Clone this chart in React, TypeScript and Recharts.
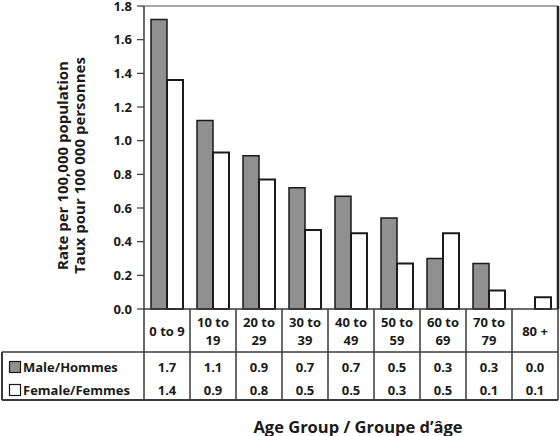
import React from 'react';
import { BarChart, Bar, XAxis, YAxis, ReferenceLine, Label } from 'recharts';

// Age groups, the two-line labels shown in the table header, and rates per 100,000
const ageGroups = ['0 to 9', '10 to 19', '20 to 29', '30 to 39', '40 to 49', '50 to 59', '60 to 69', '70 to 79', '80 +'];
const ageGroupLines = [['0 to 9'], ['10 to', '19'], ['20 to', '29'], ['30 to', '39'], ['40 to', '49'], ['50 to', '59'], ['60 to', '69'], ['70 to', '79'], ['80 +']];
const maleRates = [1.72, 1.12, 0.91, 0.72, 0.67, 0.54, 0.3, 0.27, 0];
const femaleRates = [1.36, 0.93, 0.77, 0.47, 0.45, 0.27, 0.45, 0.11, 0.07];
const yTicks = [0, 0.2, 0.4, 0.6, 0.8, 1.0, 1.2, 1.4, 1.6, 1.8];

const seriesNames = { male: 'Male/Hommes', female: 'Female/Femmes' };

const data = ageGroups.map((group, i) => ({ group, male: maleRates[i], female: femaleRates[i] }));

const FONT = "'Open Sans', 'DejaVu Sans', sans-serif";
const INK = '#1a1a1a';
const LINE = '#3a3a3a';
const MALE_FILL = '#909090';

// Table geometry below the axis (offsets from the axis line)
const HEADER_H = 43;
const MALE_ROW = 58;
const FEMALE_ROW = 81;
const TABLE_H = 91;
const LEGEND_LEFT = 2;

const txt = {
  fontFamily: FONT,
  fontWeight: 700,
  fontSize: 13,
  fill: INK,
};

const TableTick = (props: any) => {
  const { x, y, payload, index, width, visibleTicksCount } = props;
  const half = payload && payload.offset ? payload.offset : width / visibleTicksCount / 2;
  const lines = ageGroupLines[index];
  const left = x - half;
  const right = x + half;
  return (
    <g>
      {lines.length === 1 ? (
        <text x={x} y={y + 22} textAnchor="middle" dominantBaseline="central" style={txt}>{lines[0]}</text>
      ) : (
        <>
          <text x={x} y={y + 13} textAnchor="middle" dominantBaseline="central" style={txt}>{lines[0]}</text>
          <text x={x} y={y + 31} textAnchor="middle" dominantBaseline="central" style={txt}>{lines[1]}</text>
        </>
      )}
      <text x={x} y={y + MALE_ROW} textAnchor="middle" dominantBaseline="central" style={txt}>
        {maleRates[index].toFixed(1)}
      </text>
      <text x={x} y={y + FEMALE_ROW} textAnchor="middle" dominantBaseline="central" style={txt}>
        {femaleRates[index].toFixed(1)}
      </text>
      <line x1={right} y1={y} x2={right} y2={y + TABLE_H} stroke={LINE} strokeWidth={1.5} />
      <line x1={left} y1={y + HEADER_H} x2={right} y2={y + HEADER_H} stroke={LINE} strokeWidth={1.5} />
      <line x1={left} y1={y + TABLE_H} x2={right} y2={y + TABLE_H} stroke={LINE} strokeWidth={1.8} />
      {index === 0 && (
        <g>
          <line x1={left} y1={y} x2={left} y2={y + TABLE_H} stroke={LINE} strokeWidth={1.5} />
          <line x1={LEGEND_LEFT} y1={y + HEADER_H} x2={left} y2={y + HEADER_H} stroke={LINE} strokeWidth={1.5} />
          <line x1={LEGEND_LEFT} y1={y + TABLE_H} x2={left} y2={y + TABLE_H} stroke={LINE} strokeWidth={1.8} />
          <line x1={LEGEND_LEFT} y1={y + HEADER_H} x2={LEGEND_LEFT} y2={y + TABLE_H} stroke={LINE} strokeWidth={2} />
          <rect x={LEGEND_LEFT + 7.5} y={y + MALE_ROW - 5.5} width={11} height={11} fill={MALE_FILL} stroke={INK} strokeWidth={1.2} />
          <text x={LEGEND_LEFT + 21} y={y + MALE_ROW} dominantBaseline="central" style={txt}>{seriesNames.male}</text>
          <rect x={LEGEND_LEFT + 7.5} y={y + FEMALE_ROW - 5.5} width={11} height={11} fill="#fff" stroke={INK} strokeWidth={1.2} />
          <text x={LEGEND_LEFT + 21} y={y + FEMALE_ROW} dominantBaseline="central" style={txt}>{seriesNames.female}</text>
        </g>
      )}
    </g>
  );
};

const YTitle = (props: any) => {
  const { viewBox } = props;
  const cy = viewBox.y + viewBox.height / 2 + 8;
  const x1 = viewBox.x + 62;
  const x2 = viewBox.x + 79;
  const style = { ...txt, fontSize: 15 };
  return (
    <g>
      <text x={x1} y={cy} transform={`rotate(-90 ${x1} ${cy})`} textAnchor="middle" dominantBaseline="central" style={style}>
        Rate per 100,000 population
      </text>
      <text x={x2} y={cy} transform={`rotate(-90 ${x2} ${cy})`} textAnchor="middle" dominantBaseline="central" style={style}>
        Taux pour 100 000 personnes
      </text>
    </g>
  );
};

const XTitle = (props: any) => {
  const { viewBox } = props;
  return (
    <text
      x={viewBox.x + viewBox.width / 2 + 7}
      y={viewBox.y + 117}
      textAnchor="middle"
      dominantBaseline="central"
      style={{ ...txt, fontSize: 16.5 }}
    >
      Age Group / Groupe d’âge
    </text>
  );
};

export default function App() {
  return (
    <div style={{ position: 'absolute', left: 0, top: 0, background: '#fff' }}>
      <BarChart
        width={560}
        height={436}
        data={data}
        margin={{ top: 6, right: 0, bottom: 0, left: 0 }}
        barGap={0}
        barSize={16}
      >
        <XAxis
          dataKey="group"
          height={127}
          interval={0}
          tickSize={0}
          tickMargin={0}
          tickLine={false}
          axisLine={{ stroke: LINE, strokeWidth: 1.5 }}
          tick={<TableTick />}
        >
          <Label content={<XTitle />} />
        </XAxis>
        <YAxis
          yAxisId="left"
          width={144}
          domain={[0, 1.8]}
          ticks={yTicks}
          interval={0}
          tickSize={7}
          tickMargin={5}
          tickFormatter={(v: number) => v.toFixed(1)}
          tick={{ ...txt }}
          tickLine={{ stroke: LINE, strokeWidth: 1.2 }}
          axisLine={{ stroke: LINE, strokeWidth: 1.5 }}
        >
          <Label content={<YTitle />} />
        </YAxis>
        <YAxis
          yAxisId="frame"
          orientation="right"
          width={2}
          domain={[0, 1.8]}
          tick={false}
          tickLine={false}
          axisLine={{ stroke: '#222', strokeWidth: 2.5 }}
        />
        <ReferenceLine yAxisId="left" y={1.8} stroke="#8a8a8a" strokeWidth={1.5} />
        <Bar yAxisId="left" dataKey="male" name={seriesNames.male} fill={MALE_FILL} stroke={INK} strokeWidth={1.5} isAnimationActive={false} />
        <Bar yAxisId="left" dataKey="female" name={seriesNames.female} fill="#fff" stroke={INK} strokeWidth={2} isAnimationActive={false} />
      </BarChart>
    </div>
  );
}
